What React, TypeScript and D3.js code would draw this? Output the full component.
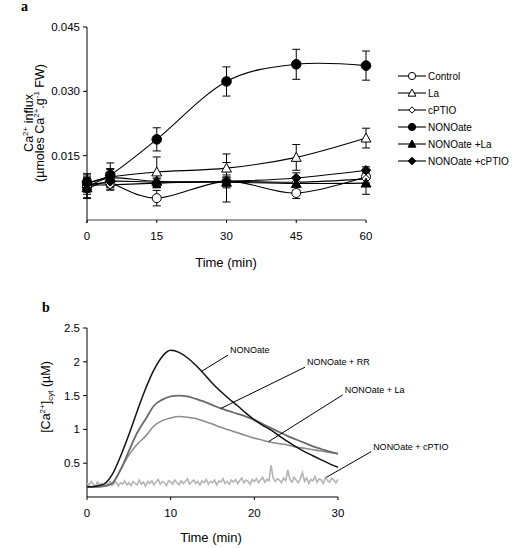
import React from "react";
import * as d3 from "d3";

// ---------- Panel a data ----------
const timesA = [0, 5, 15, 30, 45, 60];
const seriesNamesA = ["Control", "La", "cPTIO", "NONOate", "NONOate +La", "NONOate +cPTIO"];
const controlVals = [0.008, 0.0085, 0.0051, 0.009, 0.0063, 0.0101];
const controlErr = [0.002, 0.0015, 0.0018, 0.0015, 0.0013, 0.0015];
const laVals = [0.0085, 0.01, 0.0112, 0.0121, 0.0146, 0.0191];
const laErr = [0.002, 0.002, 0.0035, 0.0033, 0.003, 0.0023];
const cptioVals = [0.0082, 0.0082, 0.0086, 0.009, 0.0088, 0.0096];
const cptioErr = [0.0015, 0.0012, 0.001, 0.001, 0.001, 0.0012];
const nonoVals = [0.0088, 0.0105, 0.0188, 0.0323, 0.0363, 0.036];
const nonoErr = [0.002, 0.0028, 0.0027, 0.0034, 0.0035, 0.0034];
const nonoLaVals = [0.0075, 0.0098, 0.009, 0.0088, 0.0085, 0.0086];
const nonoLaErr = [0.0025, 0.002, 0.0015, 0.0046, 0.0015, 0.0026];
const nonoCpVals = [0.0072, 0.009, 0.0088, 0.009, 0.0098, 0.0116];
const nonoCpErr = [0.002, 0.0015, 0.001, 0.001, 0.0012, 0.0008];
const yTicksA = [0.015, 0.03, 0.045];
const xTicksA = [0, 15, 30, 45, 60];

// ---------- Panel b data ----------
const timesB = d3.range(0, 31); // minutes
const nonoTrace = [0.15, 0.16, 0.19, 0.33, 0.6, 0.92, 1.27, 1.6, 1.88, 2.08, 2.17, 2.14, 2.06, 1.95, 1.82, 1.68, 1.56, 1.45, 1.35, 1.24, 1.14, 1.06, 0.99, 0.9, 0.82, 0.74, 0.67, 0.61, 0.55, 0.49, 0.44];
const rrTrace = [0.15, 0.15, 0.16, 0.2, 0.4, 0.68, 0.95, 1.15, 1.35, 1.44, 1.49, 1.5, 1.49, 1.45, 1.41, 1.36, 1.31, 1.27, 1.23, 1.19, 1.14, 1.08, 1.02, 0.96, 0.9, 0.85, 0.8, 0.75, 0.71, 0.67, 0.64];
const laTrace = [0.15, 0.15, 0.16, 0.2, 0.4, 0.62, 0.78, 0.9, 1.05, 1.13, 1.17, 1.19, 1.18, 1.16, 1.12, 1.08, 1.03, 0.99, 0.95, 0.91, 0.87, 0.84, 0.81, 0.79, 0.77, 0.74, 0.72, 0.7, 0.68, 0.66, 0.64];
const cptioTimes = d3.range(0, 30.001, 0.25);
const cptioTrace = [
  0.21, 0.17, 0.23, 0.19, 0.15, 0.22, 0.18, 0.2, 0.16, 0.21,
  0.19, 0.23, 0.17, 0.2, 0.22, 0.16, 0.21, 0.19, 0.24, 0.18,
  0.21, 0.17, 0.23, 0.2, 0.18, 0.25, 0.19, 0.22, 0.16, 0.23,
  0.2, 0.24, 0.18, 0.22, 0.26, 0.19, 0.23, 0.21, 0.17, 0.24,
  0.22, 0.19, 0.25, 0.21, 0.18, 0.24, 0.2, 0.23, 0.27, 0.19,
  0.22, 0.25, 0.2, 0.23, 0.18, 0.24, 0.21, 0.26, 0.19, 0.23,
  0.21, 0.25, 0.18, 0.24, 0.22, 0.27, 0.2, 0.23, 0.19, 0.25,
  0.22, 0.26, 0.2, 0.24, 0.28, 0.21, 0.25, 0.23, 0.19, 0.26,
  0.23, 0.27, 0.21, 0.25, 0.29, 0.22, 0.26, 0.24, 0.47, 0.28,
  0.23, 0.27, 0.25, 0.21, 0.28, 0.24, 0.4, 0.26, 0.22, 0.29,
  0.25, 0.21, 0.27, 0.36, 0.23, 0.28, 0.2, 0.26, 0.24, 0.3,
  0.22, 0.27, 0.25, 0.2, 0.29, 0.24, 0.22, 0.28, 0.25, 0.21, 0.26,
];
const yTicksB = [0.5, 1, 1.5, 2, 2.5];
const xTicksB = [0, 10, 20, 30];
const annLabels = ["NONOate", "NONOate + RR", "NONOate + La", "NONOate + cPTIO"];
const annTextT = [17.1, 26.3, 30.8, 34.2];
const annTextV = [2.13, 1.95, 1.54, 0.7];
const annTargetT = [13.7, 16, 21.7, 28.6];

const FONT = "'Liberation Sans', Arial, Helvetica, sans-serif";

type Marker = "circle" | "triangle" | "diamond";

function MarkerShape({ x, y, type, filled, size }: { x: number; y: number; type: Marker; filled: boolean; size: number }) {
  const fill = filled ? "#000" : "#fff";
  if (type === "circle") return <circle cx={x} cy={y} r={size} fill={fill} stroke="#000" strokeWidth={1} />;
  if (type === "triangle") {
    const s = size * 1.1;
    const p = `${x},${y - s} ${x + s},${y + s * 0.8} ${x - s},${y + s * 0.8}`;
    return <polygon points={p} fill={fill} stroke="#000" strokeWidth={1} />;
  }
  const s = size * 1.05;
  const p = `${x},${y - s} ${x + s},${y} ${x},${y + s} ${x - s},${y}`;
  return <polygon points={p} fill={fill} stroke="#000" strokeWidth={1} />;
}

export default function App() {
  // Panel a scales
  const xA = d3.scaleLinear().domain([0, 60]).range([87, 366]);
  const yA = d3.scaleLinear().domain([0, 0.045]).range([220, 27]);
  const lineA = d3
    .line<[number, number]>()
    .x((d) => xA(d[0]))
    .y((d) => yA(d[1]))
    .curve(d3.curveCardinal.tension(0));

  const seriesA = [
    { name: seriesNamesA[0], vals: controlVals, err: controlErr, type: "circle" as Marker, filled: false, size: 4.5 },
    { name: seriesNamesA[1], vals: laVals, err: laErr, type: "triangle" as Marker, filled: false, size: 4.5 },
    { name: seriesNamesA[2], vals: cptioVals, err: cptioErr, type: "diamond" as Marker, filled: false, size: 4 },
    { name: seriesNamesA[3], vals: nonoVals, err: nonoErr, type: "circle" as Marker, filled: true, size: 4.8 },
    { name: seriesNamesA[4], vals: nonoLaVals, err: nonoLaErr, type: "triangle" as Marker, filled: true, size: 4.5 },
    { name: seriesNamesA[5], vals: nonoCpVals, err: nonoCpErr, type: "diamond" as Marker, filled: true, size: 4.5 },
  ];

  // Panel b scales
  const xB = d3.scaleLinear().domain([0, 30]).range([87, 338]);
  const yB = d3.scaleLinear().domain([0, 2.5]).range([497, 328]);
  const lineB = d3
    .line<[number, number]>()
    .x((d) => xB(d[0]))
    .y((d) => yB(d[1]))
    .curve(d3.curveMonotoneX);
  const lineRaw = d3
    .line<[number, number]>()
    .x((d) => xB(d[0]))
    .y((d) => yB(d[1]));

  const tracesB = [
    { vals: laTrace, color: "#8c8c8c", w: 1.6 },
    { vals: rrTrace, color: "#6a6a6a", w: 1.8 },
    { vals: nonoTrace, color: "#111", w: 1.5 },
  ];
  const traceForAnn = [nonoTrace, rrTrace, laTrace, null];

  const legendY0 = 76;
  const legendStep = 17;

  return (
    <svg width={512} height={548} style={{ position: "absolute", left: 0, top: 0, background: "#fff" }} fontFamily={FONT}>
      <rect x={0} y={0} width={512} height={548} fill="#fff" />
      {/* ===== Panel a ===== */}
      <text x={21} y={11} fontFamily="'Liberation Serif', 'Times New Roman', serif" fontWeight="bold" fontSize={14}>a</text>
      {/* axes */}
      <line x1={xA(0)} x2={xA(0)} y1={yA(0.045)} y2={yA(0) + 3} stroke="#000" />
      <line x1={xA(0)} x2={xA(60)} y1={yA(0)} y2={yA(0)} stroke="#444" />
      {yTicksA.map((t) => (
        <g key={t}>
          <line x1={xA(0) - 4} x2={xA(0)} y1={yA(t)} y2={yA(t)} stroke="#000" />
          <text x={xA(0) - 7} y={yA(t) + 4} fontSize={11.5} textAnchor="end">{d3.format(".3f")(t)}</text>
        </g>
      ))}
      {xTicksA.map((t) => (
        <g key={t}>
          <line x1={xA(t)} x2={xA(t)} y1={yA(0)} y2={yA(0) + 3} stroke="#000" />
          <text x={xA(t)} y={yA(0) + 20} fontSize={11.5} textAnchor="middle">{t}</text>
        </g>
      ))}
      <text x={226} y={267} fontSize={13} textAnchor="middle">Time (min)</text>
      <g transform="translate(33,123) rotate(-90)">
        <text x={0} y={0} fontSize={12.5} textAnchor="middle">
          <tspan>Ca</tspan>
          <tspan dy={-5} fontSize={8}>2+</tspan>
          <tspan dy={5}> influx</tspan>
        </text>
        <text x={0} y={11} fontSize={12.5} textAnchor="middle">
          <tspan>(µmoles Ca</tspan>
          <tspan dy={-5} fontSize={8}>2+</tspan>
          <tspan dy={5}>.g</tspan>
          <tspan dy={-5} fontSize={8}>-1</tspan>
          <tspan dy={5}> FW)</tspan>
        </text>
      </g>
      {/* lines */}
      {seriesA.map((s) => (
        <path key={s.name + "l"} d={lineA(timesA.map((t, i) => [t, s.vals[i]] as [number, number])) || ""} fill="none" stroke="#000" strokeWidth={1.1} />
      ))}
      {/* error bars */}
      {seriesA.map((s) =>
        timesA.map((t, i) => {
          const x = xA(t);
          const y1 = yA(s.vals[i] + s.err[i]);
          const y2 = yA(s.vals[i] - s.err[i]);
          return (
            <g key={s.name + "e" + i} stroke="#000" strokeWidth={1}>
              <line x1={x} x2={x} y1={y1} y2={y2} />
              <line x1={x - 4} x2={x + 4} y1={y1} y2={y1} />
              <line x1={x - 4} x2={x + 4} y1={y2} y2={y2} />
            </g>
          );
        })
      )}
      {/* markers */}
      {seriesA.map((s) =>
        timesA.map((t, i) => (
          <MarkerShape key={s.name + "m" + i} x={xA(t)} y={yA(s.vals[i])} type={s.type} filled={s.filled} size={s.size} />
        ))
      )}
      {/* legend */}
      {seriesA.map((s, i) => {
        const y = legendY0 + i * legendStep;
        return (
          <g key={s.name + "lg"}>
            <line x1={398} x2={426} y1={y} y2={y} stroke="#000" strokeWidth={1.1} />
            <MarkerShape x={412} y={y} type={s.type} filled={s.filled} size={s.type === "diamond" && !s.filled ? 3 : 3.6} />
            <text x={428} y={y + 3.5} fontSize={10}>{s.name}</text>
          </g>
        );
      })}

      {/* ===== Panel b ===== */}
      <text x={42} y={312} fontFamily="'Liberation Serif', 'Times New Roman', serif" fontWeight="bold" fontSize={14}>b</text>
      <line x1={xB(0)} x2={xB(0)} y1={yB(2.5)} y2={yB(0)} stroke="#000" />
      <line x1={xB(0)} x2={xB(30)} y1={yB(0)} y2={yB(0)} stroke="#000" />
      {yTicksB.map((t) => (
        <g key={t}>
          <line x1={xB(0) - 4} x2={xB(0)} y1={yB(t)} y2={yB(t)} stroke="#000" />
          <text x={xB(0) - 7} y={yB(t) + 4} fontSize={11.5} textAnchor="end">{t}</text>
        </g>
      ))}
      {xTicksB.map((t) => (
        <g key={t}>
          <line x1={xB(t)} x2={xB(t)} y1={yB(0)} y2={yB(0) + 3} stroke="#000" />
          <text x={xB(t)} y={yB(0) + 20} fontSize={11.5} textAnchor="middle">{t}</text>
        </g>
      ))}
      <text x={211} y={542} fontSize={13} textAnchor="middle">Time (min)</text>
      <g transform="translate(50,397) rotate(-90)">
        <text x={0} y={0} fontSize={12.5} textAnchor="middle">
          <tspan>[Ca</tspan>
          <tspan dy={-5} fontSize={8}>2+</tspan>
          <tspan dy={5}>]</tspan>
          <tspan dy={3} fontSize={8}>cyt</tspan>
          <tspan dy={-3}> (µM)</tspan>
        </text>
      </g>
      <path d={lineRaw(cptioTimes.map((t, i) => [t, cptioTrace[i]] as [number, number])) || ""} fill="none" stroke="#b4b4b4" strokeWidth={1.6} />
      {tracesB.map((tr, k) => (
        <path key={"tr" + k} d={lineB(timesB.map((t, i) => [t, tr.vals[i]] as [number, number])) || ""} fill="none" stroke={tr.color} strokeWidth={tr.w} />
      ))}
      {annLabels.map((lab, i) => {
        const tx = xB(annTextT[i]);
        const ty = yB(annTextV[i]);
        const tt = annTargetT[i];
        const tr = traceForAnn[i];
        let tv: number;
        if (tr) {
          const j = Math.floor(tt);
          const f = tt - j;
          tv = tr[j] * (1 - f) + tr[j + 1] * f;
        } else {
          const j = Math.round(tt / 0.25);
          tv = cptioTrace[j];
        }
        return (
          <g key={lab}>
            <line x1={tx - 2} y1={ty + 2} x2={xB(tt)} y2={yB(tv)} stroke="#000" strokeWidth={1} />
            <text x={tx} y={ty} fontSize={9}>{lab}</text>
          </g>
        );
      })}
    </svg>
  );
}
